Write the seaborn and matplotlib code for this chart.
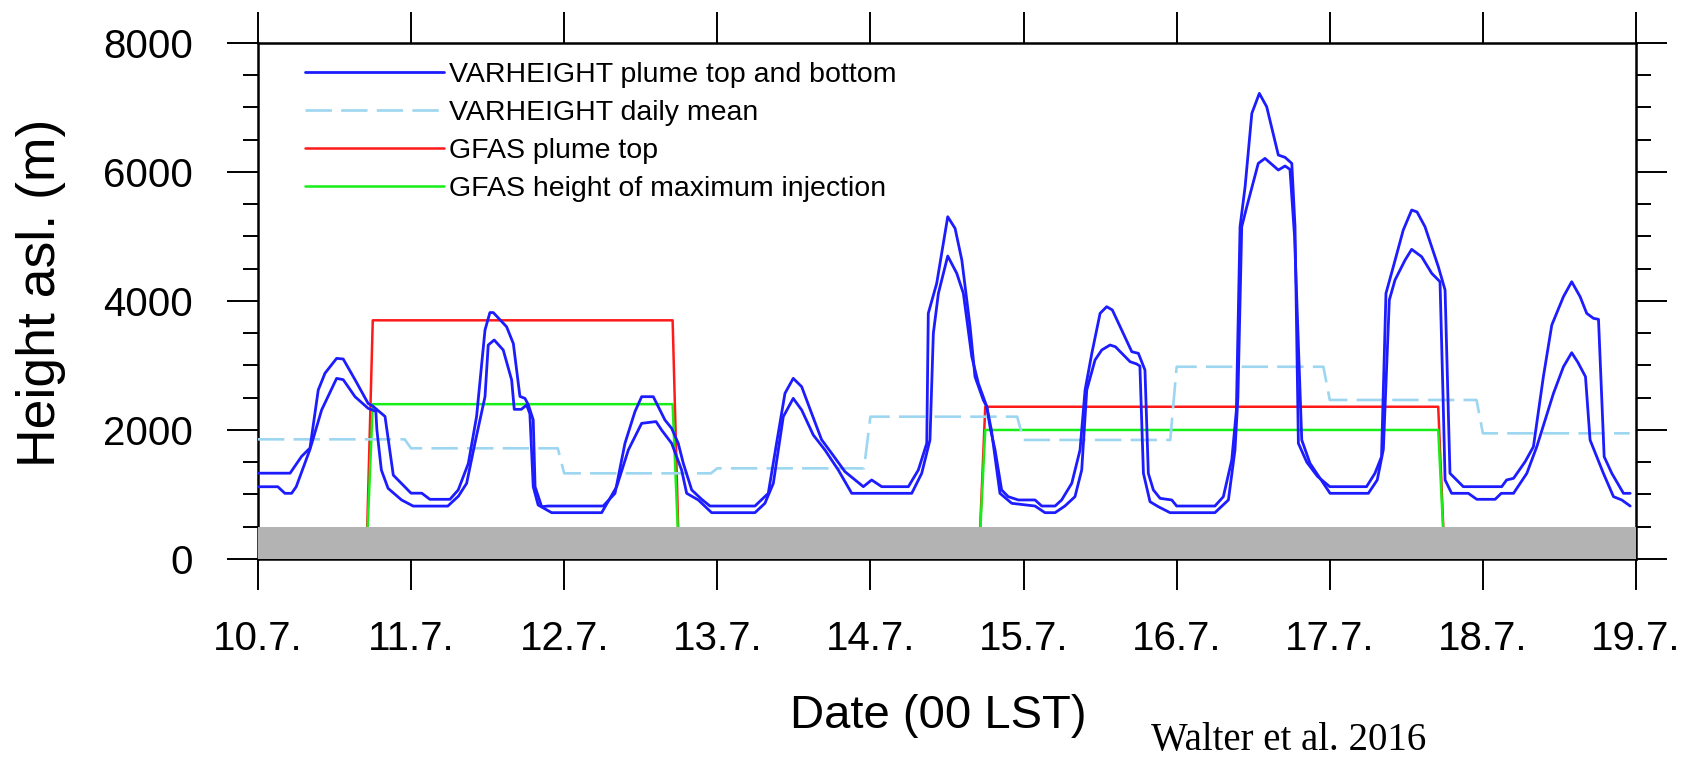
import numpy as np
import pandas as pd
import matplotlib
matplotlib.use('Agg')
import matplotlib.pyplot as plt
import seaborn as sns

# time axis: days after 10.7. 00 LST
day_labels = ['10.7.', '11.7.', '12.7.', '13.7.', '14.7.', '15.7.', '16.7.', '17.7.', '18.7.', '19.7.']

# VARHEIGHT plume top (breakpoints)
top_t = [0.0, 0.21, 0.285, 0.34, 0.394, 0.438, 0.514, 0.557, 0.634, 0.72, 0.75, 0.83, 0.884, 1.0,
         1.07, 1.123, 1.254, 1.308, 1.374, 1.428, 1.483, 1.515, 1.537, 1.624, 1.668, 1.711, 1.744,
         1.766, 1.798, 1.81, 1.853, 1.896, 2.255, 2.332, 2.397, 2.462, 2.506, 2.582, 2.658, 2.702,
         2.745, 2.778, 2.833, 2.898, 2.952, 3.246, 3.333, 3.387, 3.442, 3.496, 3.551, 3.616, 3.681,
         3.747, 3.834, 3.9, 3.954, 4.008, 4.074, 4.248, 4.313, 4.368, 4.378, 4.433, 4.505, 4.553,
         4.597, 4.651, 4.683, 4.737, 4.76, 4.781, 4.814, 4.857, 4.9, 4.966, 5.075, 5.119, 5.206,
         5.249, 5.315, 5.369, 5.402, 5.446, 5.5, 5.543, 5.58, 5.707, 5.75, 5.793, 5.815, 5.848,
         5.892, 5.968, 6.0, 6.25, 6.305, 6.36, 6.39, 6.414, 6.447, 6.491, 6.54, 6.588, 6.664, 6.708,
         6.752, 6.773, 6.795, 6.85, 6.92, 7.0, 7.24, 7.295, 7.338, 7.367, 7.415, 7.48, 7.535, 7.57,
         7.622, 7.709, 7.753, 7.785, 7.872, 8.123, 8.155, 8.2, 8.276, 8.33, 8.395, 8.45, 8.526,
         8.58, 8.635, 8.678, 8.722, 8.755, 8.792, 8.842, 8.918, 8.962]
top_h = [1330, 1330, 1590, 1720, 2620, 2880, 3110, 3100, 2780, 2410, 2370, 2210, 1300, 1020,
         1020, 925, 925, 1070, 1480, 2210, 3550, 3820, 3820, 3600, 3340, 2520, 2490,
         2390, 2155, 1120, 811, 821, 821, 1018, 1793, 2283, 2516, 2516, 2155, 2025,
         1793, 1483, 1070, 925, 821, 821, 1018, 1793, 2568, 2800, 2671, 2258, 1850,
         1638, 1353, 1225, 1121, 1225, 1121, 1121, 1380, 1793, 3808, 4273, 5306, 5125,
         4635, 3601, 2826, 2465, 2361, 2051, 1690, 1070, 966, 915, 915, 821, 821,
         915, 1173, 1690, 2620, 3188, 3808, 3911, 3860, 3213, 3188, 2930, 1328, 1070,
         940, 915, 821, 821, 966, 1535, 2300, 5150, 5770, 6908, 7218, 7011, 6262, 6226,
         6133, 5150, 1793, 1500, 1280, 1121, 1121, 1328, 1586, 4118, 4531, 5100, 5410, 5380,
         5150, 4531, 4170, 1328, 1121, 1121, 1225, 1250, 1509, 1741, 2826, 3627, 4066,
         4298, 4066, 3808, 3731, 3715, 1586, 1328, 1018, 1018]

# VARHEIGHT plume bottom
bot_t = [0.0, 0.13, 0.176, 0.22, 0.25, 0.34, 0.416, 0.514, 0.557, 0.634, 0.72, 0.77, 0.777, 0.806,
         0.85, 0.938, 1.014, 1.24, 1.31, 1.363, 1.417, 1.483, 1.504, 1.543, 1.602, 1.657, 1.674,
         1.72, 1.755, 1.776, 1.798, 1.83, 1.918, 2.245, 2.343, 2.419, 2.506, 2.6, 2.636, 2.702,
         2.767, 2.8, 2.876, 2.963, 3.246, 3.311, 3.366, 3.431, 3.496, 3.551, 3.627, 3.703, 3.79,
         3.878, 4.27, 4.335, 4.389, 4.411, 4.444, 4.505, 4.564, 4.607, 4.662, 4.705, 4.76, 4.79,
         4.846, 4.923, 5.075, 5.14, 5.206, 5.27, 5.336, 5.38, 5.413, 5.467, 5.511, 5.565, 5.6,
         5.696, 5.739, 5.76, 5.783, 5.826, 5.88, 5.957, 6.25, 6.338, 6.381, 6.4, 6.425, 6.458,
         6.533, 6.577, 6.664, 6.708, 6.74, 6.77, 6.817, 6.871, 7.002, 7.252, 7.31, 7.35, 7.389,
         7.426, 7.492, 7.535, 7.6, 7.666, 7.72, 7.74, 7.753, 7.796, 7.905, 7.96, 8.08, 8.12, 8.2,
         8.287, 8.352, 8.461, 8.526, 8.58, 8.62, 8.67, 8.7, 8.787, 8.853, 8.907, 8.962]
bot_h = [1120, 1120, 1018, 1018, 1120, 1700, 2310, 2800, 2780, 2516, 2335, 2290, 2000, 1380,
         1095, 915, 820, 820, 975, 1173, 1793, 2516, 3317, 3395, 3240, 2775, 2320,
         2320, 2387, 2250, 1121, 837, 718, 718, 1121, 1690, 2103, 2130, 2000, 1793,
         1380, 1018, 915, 718, 718, 863, 1173, 2206, 2490, 2310, 1922, 1690, 1380,
         1018, 1018, 1328, 1845, 3498, 4118, 4697, 4428, 4118, 3136, 2723, 2361, 2000,
         1018, 863, 821, 718, 718, 821, 966, 1380, 2620, 3085, 3240, 3317, 3290,
         3058, 3023, 2990, 1328, 888, 811, 718, 718, 915, 1690, 2500, 5150, 5460,
         6133, 6210, 6030, 6092, 6040, 5000, 1845, 1483, 1018, 1018, 1225, 1700, 4015,
         4325, 4635, 4800, 4686, 4428, 4298, 2500, 1225, 1018, 1018, 925, 925, 1018, 1018,
         1328, 1741, 2568, 2980, 3198, 3050, 2826, 1845, 1328, 966, 915, 821]

# VARHEIGHT daily mean, one value per day
daily_mean = [1855, 1716, 1328, 1405, 2206, 1845, 2980, 2465, 1948]

# GFAS (hourly steps)
gfas_t = [0.0, 0.7083, 0.75, 2.7083, 2.75, 4.7083, 4.75, 7.7083, 7.75, 9.0]
gfas_top = [0, 0, 3700, 3700, 0, 0, 2360, 2360, 0, 0]
gfas_inj = [0, 0, 2400, 2400, 0, 0, 2000, 2000, 0, 0]

# daily mean as hourly step series (00..23 h of each day)
mean_t, mean_h = [], []
for d, v in enumerate(daily_mean):
    mean_t += [d, d + 23 / 24]
    mean_h += [v, v]

sns.set_style('ticks')
plt.rcParams['font.family'] = ['Liberation Sans', 'DejaVu Sans']
for k in ['text.color', 'axes.labelcolor', 'xtick.color', 'ytick.color']:
    plt.rcParams[k] = 'black'

fig = plt.figure(figsize=(16.88, 7.6), dpi=100)
ax = fig.add_axes([0.1528, 0.2645, 0.8164, 0.679])

blue = '#1c1cff'
sns.lineplot(x=gfas_t, y=gfas_top, color='#ff1a1a', lw=1.8, estimator=None, sort=False,
             ax=ax, label='GFAS plume top', zorder=2)
sns.lineplot(x=gfas_t, y=gfas_inj, color='#17ee17', lw=1.8, estimator=None, sort=False,
             ax=ax, label='GFAS height of maximum injection', zorder=2)
ax.axhspan(0, 500, color='#b3b3b3', lw=0, zorder=3)
sns.lineplot(x=mean_t, y=mean_h, color='#9dd6f0', lw=1.9, estimator=None, sort=False, ax=ax,
             label='VARHEIGHT daily mean', zorder=4, dashes=False)
ax.lines[-1].set_dashes([10, 3.5])
sns.lineplot(x=top_t, y=top_h, color=blue, lw=2.0, estimator=None, sort=False, ax=ax,
             label='VARHEIGHT plume top and bottom', zorder=5)
sns.lineplot(x=bot_t, y=bot_h, color=blue, lw=2.0, estimator=None, sort=False, ax=ax, zorder=5)

ax.set_xlim(0, 9)
ax.set_ylim(0, 8000)
ax.set_xticks(range(len(day_labels)))
ax.set_xticklabels(day_labels)
ax.set_yticks([0, 2000, 4000, 6000, 8000])
ax.set_yticks(np.arange(0, 8001, 500), minor=True)
ax.tick_params(axis='both', which='major', direction='out', length=22, width=1.4,
               labelsize=29, top=True, right=True, colors='black')
ax.tick_params(axis='y', which='minor', direction='out', length=11, width=1.4,
               left=True, right=True)
ax.tick_params(axis='x', which='major', pad=22)
ax.tick_params(axis='y', which='major', pad=25)
for s in ax.spines.values():
    s.set_linewidth(1.8)
    s.set_color('black')
    s.set_visible(True)

ax.set_xlabel('Date (00 LST)', fontsize=34)
ax.xaxis.set_label_coords(0.494, -0.262)
ax.set_ylabel('Height asl. (m)', fontsize=38.5)
ax.yaxis.set_label_coords(-0.139, 0.515)

handles, labels = ax.get_legend_handles_labels()
order = ['VARHEIGHT plume top and bottom', 'VARHEIGHT daily mean',
         'GFAS plume top', 'GFAS height of maximum injection']
hmap = dict(zip(labels, handles))
leg = ax.legend([hmap[k] for k in order], order, loc='upper left', bbox_to_anchor=(0.034, 0.963),
                frameon=False, fontsize=20.5, handlelength=4.9, handletextpad=0.15,
                labelspacing=0.42, borderpad=0, borderaxespad=0)
for t in leg.get_texts():
    t.set_color('black')

fig.text(0.682, 0.026, 'Walter et al. 2016', family=['Liberation Serif', 'DejaVu Serif'],
         fontsize=28, ha='left', va='center')

fig.savefig('out.png', dpi=100)
